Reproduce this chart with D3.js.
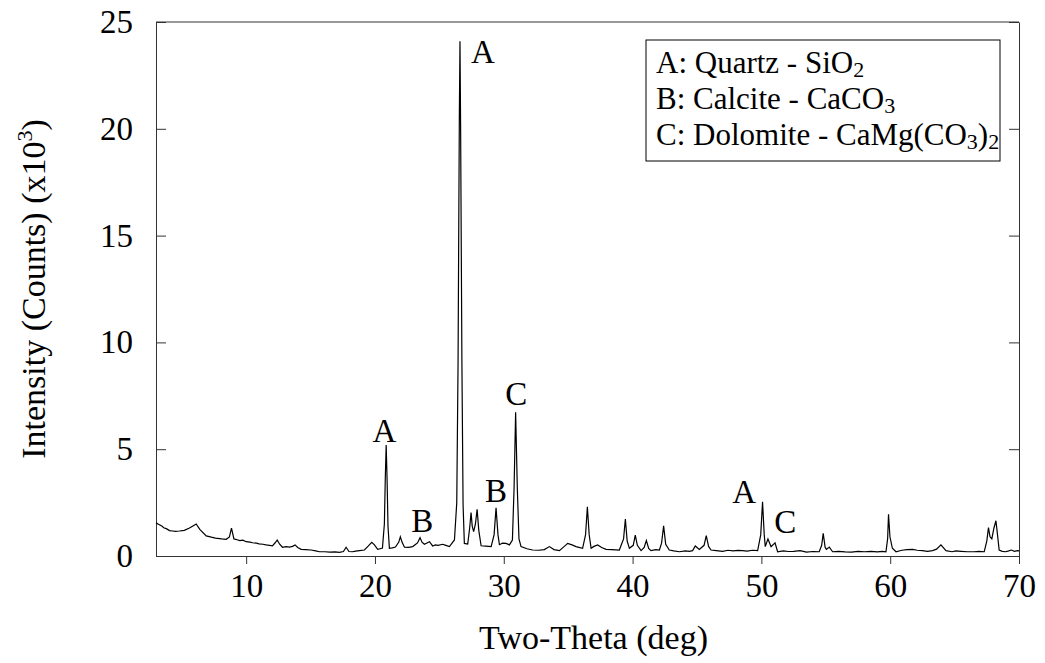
<!DOCTYPE html>
<html>
<head>
<meta charset="utf-8">
<script src="https://cdn.jsdelivr.net/npm/d3@7"></script>
<style>
  body { margin: 0; background: #fff; }
  svg text { font-family: "Liberation Serif", "Times New Roman", "DejaVu Serif", serif; fill: #000; }
</style>
</head>
<body>
<div id="chart-container"></div>
<script>
// XRD pattern - intensity (x10^3 counts) vs two-theta

const twoTheta = [3.0, 3.15, 3.3, 3.45, 3.6, 3.8, 4.05, 4.3, 4.5, 4.82, 5.2, 5.6, 5.9, 6.12, 6.4, 6.9, 7.3, 7.62, 8.1, 8.45, 8.7, 8.86, 9.05, 9.3, 9.5,
    9.75, 10.0, 10.3, 10.5, 10.8, 11.0, 11.3, 11.55, 12.04, 12.25, 12.41, 12.6, 12.82, 13.1, 13.36, 13.6, 13.8, 14.0, 14.27, 14.6, 15.04, 15.4, 15.69, 16.1, 16.5,
    16.9, 17.24, 17.55, 17.76, 17.98, 18.25, 18.5, 18.79, 19.18, 19.49, 19.75, 19.96, 20.21, 20.4, 20.58, 20.73, 20.8, 20.87, 20.94, 21.01, 21.12, 21.35, 21.59, 21.85, 21.97,
    22.1, 22.29, 22.6, 22.93, 23.3, 23.5, 23.65, 23.84, 24.23, 24.48, 24.7, 24.9, 25.26, 25.5, 25.78, 26.17, 26.35, 26.45, 26.55, 26.6, 26.65, 26.75, 26.84, 26.94, 27.2,
    27.35, 27.46, 27.55, 27.66, 27.8, 27.93, 28.06, 28.24, 28.6, 29.02, 29.25, 29.4, 29.55, 29.66, 29.9, 30.18, 30.44, 30.67, 30.8, 30.92, 31.05, 31.18,
    31.34, 31.8, 32.24, 32.7, 33.15, 33.54, 33.9, 34.32, 34.7, 34.96, 35.3, 35.61, 36.12, 36.35, 36.49, 36.63, 36.78, 37.0, 37.29, 37.6, 37.94, 38.4, 38.97, 39.3, 39.44, 39.58, 39.75, 40.05,
    40.21, 40.37, 40.66, 40.9, 41.07, 41.25, 41.43, 41.8, 42.08, 42.25, 42.41, 42.57, 42.85, 43.2, 43.63, 44.1, 44.4, 44.66, 44.87, 45.18, 45.55, 45.72, 45.9, 46.09,
    46.5, 47.0, 47.4, 47.8, 48.2, 48.54, 48.9, 49.3, 49.71, 49.95, 50.09, 50.22, 50.3, 50.51, 50.75, 51.06, 51.26, 51.7, 52.1, 52.5, 53.0, 53.5, 54.0, 54.49, 54.68, 54.8, 54.95, 55.05, 55.27, 55.53,
    56.0, 56.5, 57.0, 57.5, 58.0, 58.5, 59.0, 59.4, 59.67, 59.8, 59.87, 59.98, 60.17, 60.45, 60.9, 61.3, 61.73, 62.1, 62.5, 62.9, 63.29, 63.6, 63.94, 64.33, 64.8, 65.1, 65.5, 66.0, 66.5, 66.9, 67.3, 67.5, 67.63, 67.75, 67.89,
    68.05, 68.21, 68.33, 68.46, 68.7, 68.98, 69.2, 69.4, 69.65, 69.88, 70.0];

const intensity = [1.55, 1.5, 1.45, 1.4, 1.32, 1.28, 1.19, 1.17, 1.15, 1.17, 1.2, 1.31, 1.42, 1.5, 1.25, 0.94, 0.88, 0.84, 0.8, 0.78, 0.89, 1.3, 0.8, 0.76, 0.72,
    0.74, 0.67, 0.65, 0.62, 0.6, 0.57, 0.55, 0.52, 0.47, 0.62, 0.75, 0.55, 0.41, 0.44, 0.42, 0.45, 0.52, 0.4, 0.31, 0.3, 0.28, 0.24, 0.2, 0.2, 0.18,
    0.19, 0.17, 0.21, 0.41, 0.21, 0.2, 0.23, 0.25, 0.28, 0.47, 0.64, 0.52, 0.31, 0.34, 0.37, 1.5, 3.6, 5.2, 3.6, 1.4, 0.36, 0.38, 0.42, 0.65, 0.9,
    0.65, 0.41, 0.4, 0.44, 0.61, 0.86, 0.65, 0.55, 0.67, 0.47, 0.52, 0.5, 0.55, 0.5, 0.44, 0.75, 2.5, 9.0, 20.5, 24.1, 20.0, 9.0, 2.4, 0.59, 0.56,
    1.3, 2.03, 1.4, 1.14, 1.5, 2.19, 1.2, 0.48, 0.46, 0.44, 1.0, 2.26, 1.0, 0.53, 0.6, 0.59, 0.52, 0.75, 3.2, 6.73, 3.2, 0.8,
    0.44, 0.34, 0.28, 0.27, 0.3, 0.44, 0.3, 0.25, 0.45, 0.59, 0.52, 0.44, 0.36, 1.0, 2.3, 1.0, 0.36, 0.45, 0.52, 0.4, 0.31, 0.3, 0.28, 0.8, 1.73, 0.7, 0.36, 0.5,
    0.98, 0.5, 0.25, 0.4, 0.72, 0.35, 0.25, 0.3, 0.28, 0.6, 1.41, 0.55, 0.28, 0.24, 0.2, 0.24, 0.22, 0.25, 0.47, 0.31, 0.5, 0.95, 0.45, 0.28,
    0.25, 0.22, 0.27, 0.24, 0.26, 0.25, 0.23, 0.27, 0.25, 1.0, 2.54, 1.0, 0.44, 0.8, 0.44, 0.62, 0.2, 0.24, 0.21, 0.22, 0.25, 0.18, 0.21, 0.2, 0.5, 1.06, 0.4, 0.31, 0.42, 0.2,
    0.22, 0.19, 0.18, 0.22, 0.2, 0.22, 0.19, 0.22, 0.2, 0.8, 1.95, 0.9, 0.36, 0.2, 0.27, 0.3, 0.31, 0.27, 0.25, 0.22, 0.25, 0.32, 0.52, 0.25, 0.2, 0.24, 0.22, 0.2, 0.2, 0.22, 0.2, 0.7, 1.33, 0.9, 0.8,
    1.3, 1.65, 1.0, 0.28, 0.22, 0.2, 0.24, 0.28, 0.22, 0.25, 0.24];

// peak labels (phase letter, anchored in data units)
const peakLetters = ["A", "A", "B", "B", "C", "A", "C"];
const peakTheta = [28.38, 20.73, 23.68, 29.39, 30.96, 48.67, 51.85];
const peakLevel = [23.1, 5.35, 1.14, 2.54, 7.07, 2.5, 1.08];

const xTicks = [10, 20, 30, 40, 50, 60, 70];
const yTicks = [0, 5, 10, 15, 20, 25];

const serif = '"Liberation Serif", "Times New Roman", "DejaVu Serif", serif';

const svgWidth = 1045;
const svgHeight = 663;
const margin = { top: 22, right: 26, bottom: 107, left: 156 };
const width = svgWidth - margin.left - margin.right;
const height = svgHeight - margin.top - margin.bottom;

const svg = d3.select("#chart-container")
    .append("svg")
    .attr("width", svgWidth)
    .attr("height", svgHeight)
    .attr("font-family", serif);

const chart = svg.append("g")
    .attr("transform", `translate(${margin.left},${margin.top})`);

const scaleX = d3.scaleLinear().domain([3, 70]).range([0, width]);
const scaleY = d3.scaleLinear().domain([0, 25]).range([height, 0]);

// bottom axis, ticks outward
const xAxis = chart.append("g")
    .attr("transform", `translate(0,${height})`)
    .call(d3.axisBottom(scaleX).tickValues(xTicks).tickSize(8).tickSizeOuter(0).tickPadding(8));
xAxis.attr("font-family", serif);
xAxis.selectAll("text").attr("font-size", "33px").attr("dy", "0.75em");

// left axis, ticks inward
const yAxis = chart.append("g")
    .call(d3.axisRight(scaleY).tickValues(yTicks).tickSize(10).tickSizeOuter(0).tickFormat(d3.format("d")));
yAxis.attr("font-family", serif);
yAxis.selectAll("text")
    .attr("font-size", "33px")
    .attr("text-anchor", "end")
    .attr("x", -23)
    .attr("dy", "0.32em");

// right axis, ticks inward, no labels
chart.append("g")
    .attr("transform", `translate(${width},0)`)
    .call(d3.axisLeft(scaleY).tickValues(yTicks).tickSize(10).tickSizeOuter(0).tickFormat(""));

// top frame line
chart.append("line")
    .attr("x1", 0).attr("x2", width)
    .attr("y1", 0).attr("y2", 0)
    .attr("stroke", "#333");

chart.selectAll(".domain, .tick line").attr("stroke", "#333");

const line = d3.line()
    .x((d, i) => scaleX(twoTheta[i]))
    .y(d => scaleY(d));

chart.append("path")
    .datum(intensity)
    .attr("fill", "none")
    .attr("stroke", "#000")
    .attr("stroke-width", 1.2)
    .attr("d", line);

chart.selectAll(".peak-label")
    .data(peakLetters)
    .enter()
    .append("text")
    .attr("class", "peak-label")
    .attr("x", (d, i) => scaleX(peakTheta[i]))
    .attr("y", (d, i) => scaleY(peakLevel[i]))
    .attr("text-anchor", "middle")
    .attr("font-size", "33px")
    .text(d => d);

// axis titles
svg.append("text")
    .attr("x", margin.left + width / 2 + 6)
    .attr("y", 649)
    .attr("text-anchor", "middle")
    .attr("font-size", "34px")
    .text("Two-Theta (deg)");

const yTitle = svg.append("text")
    .attr("transform", `translate(45,${margin.top + height / 2}) rotate(-90)`)
    .attr("text-anchor", "middle")
    .attr("font-size", "34px");
yTitle.append("tspan").text("Intensity (Counts) (x10");
yTitle.append("tspan").attr("font-size", "22px").attr("dy", "-13").text("3");
yTitle.append("tspan").attr("dy", "13").text(")");

// legend
const legend = svg.append("g").attr("transform", "translate(646,40)");
legend.append("rect")
    .attr("width", 354)
    .attr("height", 121)
    .attr("fill", "#fff")
    .attr("stroke", "#000")
    .attr("stroke-width", 1);

const legendRows = [
    [["A: Quartz - SiO", 0], ["2", 1]],
    [["B: Calcite - CaCO", 0], ["3", 1]],
    [["C: Dolomite - CaMg(CO", 0], ["3", 1], [")", 0], ["2", 1]]
];

legendRows.forEach(function(parts, r) {
    const t = legend.append("text")
        .attr("x", 10)
        .attr("y", 33 + r * 36)
        .attr("font-size", "31px");
    parts.forEach(function(p) {
        const sp = t.append("tspan").text(p[0]);
        if (p[1]) sp.attr("font-size", "22px").attr("baseline-shift", "-4");
    });
});
</script>
</body>
</html>
